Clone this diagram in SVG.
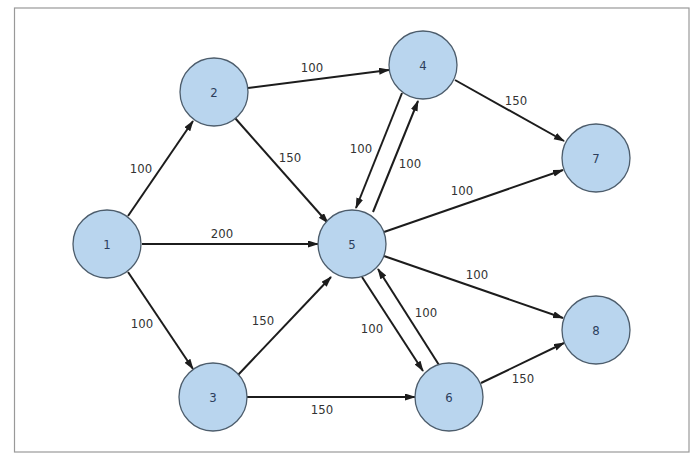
<svg xmlns="http://www.w3.org/2000/svg" width="700" height="473" viewBox="0 0 700 473">
<style>
.node circle{fill:#b9d5ee;stroke:#4d5d6c;stroke-width:1.3}
.node text{font-family:"DejaVu Sans Condensed","Liberation Sans Narrow","Liberation Sans",sans-serif;font-stretch:condensed;font-size:13px;fill:#2c3e5c;text-anchor:middle;dominant-baseline:central}
.edges line{stroke:#1c1c1c;stroke-width:2;marker-end:url(#ah)}
.lbl{font-family:"DejaVu Sans Condensed","Liberation Sans Narrow","Liberation Sans",sans-serif;font-stretch:condensed;font-size:13px;fill:#333;text-anchor:middle;dominant-baseline:central}
</style>
<defs>
<marker id="ah" markerUnits="userSpaceOnUse" markerWidth="11" markerHeight="8" refX="10" refY="3.5" orient="auto">
<path d="M0,0 L11,3.5 L0,7 z" fill="#1c1c1c"/>
</marker>
</defs>
<rect x="0" y="0" width="700" height="473" fill="#fff"/>
<rect x="14.5" y="8" width="674.5" height="444" fill="#fff" stroke="#999" stroke-width="1.2"/>
<g class="edges">
<line x1="128" y1="216" x2="193" y2="121"/>
<line x1="142" y1="244" x2="318" y2="244"/>
<line x1="128" y1="272" x2="193" y2="369"/>
<line x1="248" y1="88" x2="389" y2="70"/>
<line x1="235" y1="118" x2="328" y2="223"/>
<line x1="238" y1="375" x2="331" y2="277"/>
<line x1="247" y1="397" x2="415" y2="397"/>
<line x1="402" y1="93" x2="356" y2="208"/>
<line x1="373" y1="212" x2="418" y2="101"/>
<line x1="455" y1="80" x2="564" y2="141"/>
<line x1="384" y1="232" x2="563" y2="170"/>
<line x1="384" y1="256" x2="563" y2="318"/>
<line x1="362" y1="277" x2="423" y2="371"/>
<line x1="439" y1="365" x2="378" y2="269"/>
<line x1="481" y1="383" x2="564" y2="343"/>
</g>
<g class="labels">
<text class="lbl" x="141" y="168">100</text>
<text class="lbl" x="222" y="233">200</text>
<text class="lbl" x="142" y="323">100</text>
<text class="lbl" x="312" y="67">100</text>
<text class="lbl" x="290" y="157">150</text>
<text class="lbl" x="263" y="320">150</text>
<text class="lbl" x="322" y="409">150</text>
<text class="lbl" x="361" y="148">100</text>
<text class="lbl" x="410" y="163">100</text>
<text class="lbl" x="516" y="100">150</text>
<text class="lbl" x="462" y="190">100</text>
<text class="lbl" x="477" y="274">100</text>
<text class="lbl" x="372" y="328">100</text>
<text class="lbl" x="426" y="312">100</text>
<text class="lbl" x="523" y="378">150</text>
</g>
<g id="n1" class="node"><circle cx="107" cy="244" r="34"/><text x="107" y="244">1</text></g>
<g id="n2" class="node"><circle cx="214" cy="92" r="34"/><text x="214" y="92">2</text></g>
<g id="n3" class="node"><circle cx="213" cy="397" r="34"/><text x="213" y="397">3</text></g>
<g id="n4" class="node"><circle cx="423" cy="65" r="34"/><text x="423" y="65">4</text></g>
<g id="n5" class="node"><circle cx="352" cy="244" r="34"/><text x="352" y="244">5</text></g>
<g id="n6" class="node"><circle cx="449" cy="397" r="34"/><text x="449" y="397">6</text></g>
<g id="n7" class="node"><circle cx="596" cy="158" r="34"/><text x="596" y="158">7</text></g>
<g id="n8" class="node"><circle cx="596" cy="330" r="34"/><text x="596" y="330">8</text></g>
</svg>
